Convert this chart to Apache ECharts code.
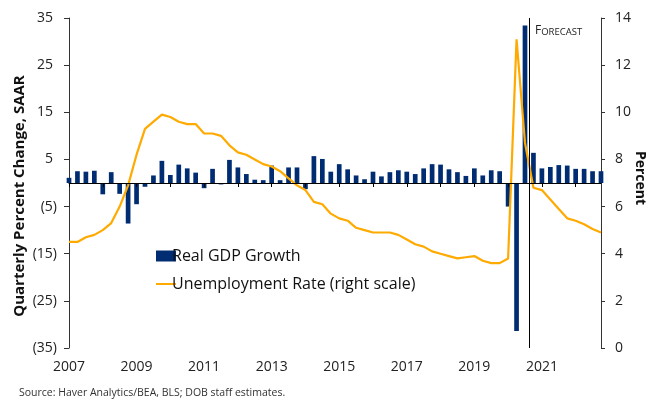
<!DOCTYPE html>
<html><head><meta charset="utf-8">
<script src="https://cdn.jsdelivr.net/npm/echarts@6/dist/echarts.min.js"></script>
<style>html,body{margin:0;padding:0;background:#fff}#c{width:647px;height:400px}</style>
</head><body><div id="c"></div>
<script>
const quarters = [
 '2007Q1','2007Q2','2007Q3','2007Q4','2008Q1','2008Q2','2008Q3','2008Q4',
 '2009Q1','2009Q2','2009Q3','2009Q4','2010Q1','2010Q2','2010Q3','2010Q4',
 '2011Q1','2011Q2','2011Q3','2011Q4','2012Q1','2012Q2','2012Q3','2012Q4',
 '2013Q1','2013Q2','2013Q3','2013Q4','2014Q1','2014Q2','2014Q3','2014Q4',
 '2015Q1','2015Q2','2015Q3','2015Q4','2016Q1','2016Q2','2016Q3','2016Q4',
 '2017Q1','2017Q2','2017Q3','2017Q4','2018Q1','2018Q2','2018Q3','2018Q4',
 '2019Q1','2019Q2','2019Q3','2019Q4','2020Q1','2020Q2','2020Q3','2020Q4',
 '2021Q1','2021Q2','2021Q3','2021Q4','2022Q1','2022Q2','2022Q3','2022Q4'
];
const gdpGrowth = [
 1.1, 2.5, 2.4, 2.6, -2.4, 2.3, -2.3, -8.6,
 -4.5, -0.8, 1.6, 4.7, 1.7, 3.9, 3.1, 2.2,
 -1.1, 3.0, -0.3, 4.9, 3.3, 1.9, 0.7, 0.6,
 3.7, 0.6, 3.3, 3.3, -1.3, 5.7, 5.1, 2.4,
 4.0, 2.9, 1.6, 0.8, 2.4, 1.4, 2.3, 2.7,
 2.4, 1.9, 3.1, 4.0, 3.9, 2.9, 2.3, 1.5,
 3.1, 1.6, 2.7, 2.5, -5.0, -31.4, 33.4, 6.4,
 3.1, 3.4, 3.8, 3.7, 3.0, 3.0, 2.5, 2.5
];
const unemploymentRate = [
 4.5, 4.5, 4.7, 4.8, 5.0, 5.3, 6.0, 6.9,
 8.2, 9.3, 9.6, 9.9, 9.8, 9.6, 9.5, 9.5,
 9.1, 9.1, 9.0, 8.6, 8.3, 8.2, 8.0, 7.8,
 7.7, 7.5, 7.2, 6.9, 6.7, 6.2, 6.1, 5.7,
 5.5, 5.4, 5.1, 5.0, 4.9, 4.9, 4.9, 4.8,
 4.6, 4.4, 4.3, 4.1, 4.0, 3.9, 3.8, 3.85,
 3.9, 3.7, 3.6, 3.6, 3.8, 13.1, 8.7, 6.8,
 6.7, 6.3, 5.9, 5.5, 5.4, 5.25, 5.05, 4.9
];
const leftTicks = [-35, -25, -15, -5, 5, 15, 25, 35];
const rightTicks = [0, 2, 4, 6, 8, 10, 12, 14];
const forecastPosition = 54.45; // between 2020Q3 and 2020Q4 (quarter index)
const seriesNames = ['Real GDP Growth', 'Unemployment Rate (right scale)'];

const FONT = 'Open Sans';
const lineIcon = 'path://M0,0L0,0ZM0,11L0,11ZM0,4.5L20,4.5L20,6.5L0,6.5Z';
const chart = echarts.init(document.getElementById('c'), null, {renderer: 'canvas'});
chart.setOption({
  animation: false,
  grid: {left: 69, right: 46, top: 18, bottom: 52, containLabel: false},
  legend: {
    orient: 'vertical', left: 151, top: 243, itemWidth: 20, itemHeight: 11, itemGap: 12,
    textStyle: {fontFamily: FONT, fontSize: 16, color: '#111', padding: [0, 0, 0, -9]},
    data: [{name: seriesNames[0], icon: 'rect'}, {name: seriesNames[1], icon: lineIcon}]
  },
  xAxis: [
    {
      type: 'category', data: quarters, boundaryGap: false,
      axisLine: {onZero: true, onZeroAxisIndex: 0, lineStyle: {color: '#000', width: 1}},
      axisTick: {interval: 3, length: 4, lineStyle: {color: '#000'}},
      axisLabel: {show: false}, splitLine: {show: false}, z: 5
    },
    {
      type: 'category', data: quarters, boundaryGap: false, position: 'bottom',
      axisLine: {show: false, onZero: false}, axisTick: {show: false},
      axisLabel: {interval: 7, margin: 12, fontFamily: FONT, fontSize: 14, color: '#222',
        formatter: v => v.slice(0, 4)},
      splitLine: {show: false}
    },
    {type: 'value', min: 0, max: quarters.length - 1, show: false}
  ],
  yAxis: [
    {
      type: 'value', min: -35, max: 35, position: 'left',
      axisLine: {show: true, lineStyle: {color: '#333'}},
      axisTick: {show: true, inside: false, length: 5, customValues: leftTicks, lineStyle: {color: '#333'}},
      axisLabel: {customValues: leftTicks, margin: 12, fontFamily: FONT, fontSize: 14, color: '#222',
        formatter: v => v < 0 ? '(' + Math.abs(v) + ')' : '{p|' + v + '}',
        rich: {p: {fontFamily: FONT, fontSize: 14, color: '#222', padding: [0, 4, 0, 0]}}},
      splitLine: {show: false}
    },
    {
      type: 'value', min: 0, max: 14, position: 'right',
      axisLine: {show: true, lineStyle: {color: '#333'}},
      axisTick: {show: true, inside: false, length: 4, customValues: rightTicks, lineStyle: {color: '#333'}},
      axisLabel: {customValues: rightTicks, margin: 14, fontFamily: FONT, fontSize: 14, color: '#222'},
      splitLine: {show: false}
    }
  ],
  series: [
    {
      name: seriesNames[0], type: 'bar', xAxisIndex: 0, yAxisIndex: 0,
      data: gdpGrowth, barWidth: 4.7, clip: true,
      itemStyle: {color: '#002D72'}, z: 3
    },
    {
      name: seriesNames[1], type: 'line', xAxisIndex: 0, yAxisIndex: 1,
      data: unemploymentRate, symbol: 'none', smooth: false,
      lineStyle: {color: '#FFAA00', width: 2.2}, itemStyle: {color: '#FFAA00'}, z: 4
    },
    {
      name: 'forecast', type: 'line', xAxisIndex: 2, yAxisIndex: 0, data: [],
      markLine: {
        silent: true, symbol: ['none', 'none'], label: {show: false},
        lineStyle: {color: '#000', width: 1, type: 'solid'},
        data: [[{coord: [forecastPosition, -35]}, {coord: [forecastPosition, 35]}]]
      }
    }
  ],
  graphic: [
    {type: 'text', x: 20, y: 196, rotation: Math.PI / 2,
      style: {text: 'Quarterly Percent Change, SAAR', font: 'bold 15px "Open Sans"', fill: '#111',
        align: 'center', verticalAlign: 'middle'}},
    {type: 'text', x: 640, y: 178, rotation: -Math.PI / 2,
      style: {text: 'Percent', font: 'bold 14px "Open Sans"', fill: '#111',
        align: 'center', verticalAlign: 'middle'}},
    {type: 'text', x: 535, y: 31,
      style: {text: '{a|F}{b|ORECAST}', verticalAlign: 'middle', fill: '#222',
        rich: {a: {fontFamily: FONT, fontSize: 12, color: '#222'}, b: {fontFamily: FONT, fontSize: 9.5, color: '#222', verticalAlign: 'bottom'}}}},
    {type: 'text', x: 19, y: 393,
      style: {text: 'Source: Haver Analytics/BEA, BLS; DOB staff estimates.', font: '10.5px "Open Sans"', fill: '#333',
        verticalAlign: 'middle'}}
  ]
});
</script></body></html>
